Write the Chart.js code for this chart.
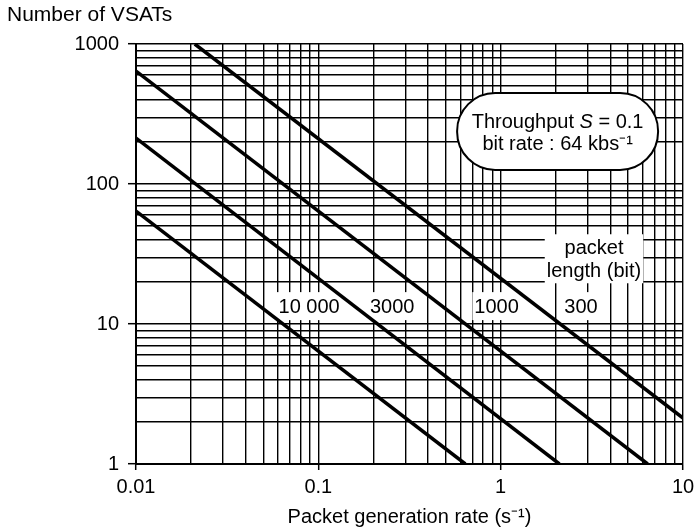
<!DOCTYPE html>
<html>
<head>
<meta charset="utf-8">
<script src="https://cdn.jsdelivr.net/npm/chart.js@4.4.1/dist/chart.umd.min.js"></script>
<style>
  html, body { margin: 0; padding: 0; background: #fff; }
  #wrap { width: 696px; height: 531px; position: relative; }
</style>
</head>
<body>
<div id="wrap"><canvas id="vsat-chart"></canvas></div>
<script>
// packet length of each line (bit)
const packetLengths = ["300", "1000", "3000", "10 000"];

// end points of each line
const rate300 = [0.021, 10];
const vsats300 = [1000, 2.13];
const rate1000 = [0.01, 6.4];
const vsats1000 = [640, 1];
const rate3000 = [0.01, 2.1];
const vsats3000 = [213, 1];
const rate10000 = [0.01, 0.64];
const vsats10000 = [64, 1];

// where the packet length labels sit (data units)
const labelRates = [2.76, 0.95, 0.254, 0.089];
const labelVsats = 13.2;

// axes
const xDecades = [0.01, 0.1, 1, 10];
const xTickLabels = ["0.01", "0.1", "1", "10"];
const yDecades = [1, 10, 100, 1000];
const yTickLabels = ["1", "10", "100", "1000"];

const FONT = '"Liberation Sans", Arial, Helvetica, sans-serif';

// full log grid: 1..9 in every decade
function logGrid(decades) {
  const vals = [];
  decades.forEach((d, i) => {
    if (i === decades.length - 1) { vals.push(d); return; }
    for (let m = 1; m < 10; m++) vals.push(Number((m * d).toPrecision(3)));
  });
  return vals;
}
const xGrid = logGrid(xDecades);
const yGrid = logGrid(yDecades);

function pts(xs, ys) {
  return xs.map((x, i) => ({ x: x, y: ys[i] }));
}

const lineStyle = { borderColor: "#000", borderWidth: 3.5, pointRadius: 0, fill: false, tension: 0 };

const overlay = {
  id: "overlay",
  beforeDatasetsDraw(chart) {
    const { ctx, scales: { x, y } } = chart;
    ctx.save();

    // packet length labels on white boxes
    ctx.font = "20px " + FONT;
    ctx.textAlign = "center";
    ctx.textBaseline = "middle";
    packetLengths.forEach((t, i) => {
      const px = x.getPixelForValue(labelRates[i]);
      const py = y.getPixelForValue(labelVsats);
      const w = ctx.measureText(t).width + 4;
      ctx.fillStyle = "#fff";
      ctx.fillRect(px - w / 2, py - 15, w, 28);
      ctx.fillStyle = "#000";
      ctx.fillText(t, px, py);
    });

    // "packet length (bit)"
    const hx = x.getPixelForValue(3.25);
    const hy = y.getPixelForValue(29);
    const hw = ctx.measureText("length (bit)").width + 4;
    ctx.fillStyle = "#fff";
    ctx.fillRect(hx - hw / 2, hy - 25, hw, 49);
    ctx.fillStyle = "#000";
    ctx.fillText("packet", hx, hy - 11);
    ctx.fillText("length (bit)", hx, hy + 12);

    // callout pill
    const x0 = x.getPixelForValue(0.577), x1 = x.getPixelForValue(7.3);
    const y0 = y.getPixelForValue(447), y1 = y.getPixelForValue(126);
    ctx.beginPath();
    ctx.roundRect(x0, y0, x1 - x0, y1 - y0, 38);
    ctx.fillStyle = "#fff";
    ctx.fill();
    ctx.lineWidth = 2;
    ctx.strokeStyle = "#000";
    ctx.stroke();

    const cx = (x0 + x1) / 2, cy = (y0 + y1) / 2;
    ctx.fillStyle = "#000";
    const a = "Throughput ", s = "S", b = " = 0.1";
    ctx.font = "20px " + FONT;
    const wa = ctx.measureText(a).width, wb = ctx.measureText(b).width;
    ctx.font = "italic 20px " + FONT;
    const ws = ctx.measureText(s).width;
    let sx = cx - (wa + ws + wb) / 2;
    ctx.textAlign = "left";
    ctx.font = "20px " + FONT;
    ctx.fillText(a, sx, cy - 9);
    ctx.font = "italic 20px " + FONT;
    ctx.fillText(s, sx + wa, cy - 9);
    ctx.font = "20px " + FONT;
    ctx.fillText(b, sx + wa + ws, cy - 9);
    ctx.textAlign = "center";
    ctx.fillText("bit rate : 64 kbs\u207B\u00B9", cx, cy + 13);

    // y axis title, top left
    ctx.textAlign = "left";
    ctx.font = "21px " + FONT;
    ctx.fillText("Number of VSATs", 7, 15);
    ctx.restore();
  }
};

const gridOpts = (majors) => ({
  color: "#000",
  lineWidth: 1.4,
  drawTicks: true,
  tickColor: (c) => (c.tick && majors.includes(c.tick.value) ? "#000" : "rgba(0,0,0,0)"),
  tickWidth: 1.5
});

new Chart(document.getElementById("vsat-chart"), {
  type: "line",
  data: {
    datasets: [
      { label: packetLengths[0], data: pts(rate300, vsats300), ...lineStyle },
      { label: packetLengths[1], data: pts(rate1000, vsats1000), ...lineStyle },
      { label: packetLengths[2], data: pts(rate3000, vsats3000), ...lineStyle },
      { label: packetLengths[3], data: pts(rate10000, vsats10000), ...lineStyle }
    ]
  },
  options: {
    responsive: true,
    maintainAspectRatio: false,
    animation: false,
    layout: { padding: { top: 44, right: 13, left: 0, bottom: 0 } },
    plugins: { legend: { display: false }, tooltip: { enabled: false } },
    scales: {
      x: {
        type: "logarithmic",
        min: 0.01,
        max: 10,
        afterBuildTicks: (axis) => { axis.ticks = xGrid.map((v) => ({ value: v })); },
        afterFit: (scale) => { scale.height = 67; scale.paddingRight = 0; scale.paddingLeft = 0; },
        grid: { ...gridOpts(xDecades), tickLength: 6 },
        border: { color: "#000", width: 2 },
        ticks: {
          autoSkip: false,
          maxRotation: 0,
          padding: 5,
          color: "#000",
          font: { family: FONT, size: 20 },
          callback: (v) => { const i = xDecades.indexOf(v); return i >= 0 ? xTickLabels[i] : ""; }
        },
        title: {
          display: true,
          text: "Packet generation rate (s\u207B\u00B9)",
          color: "#000",
          font: { family: FONT, size: 20 },
          padding: { top: 0, bottom: 2 }
        }
      },
      y: {
        type: "logarithmic",
        min: 1,
        max: 1000,
        afterBuildTicks: (axis) => { axis.ticks = yGrid.map((v) => ({ value: v })); },
        afterFit: (scale) => { scale.width = 136; scale.paddingTop = 0; scale.paddingBottom = 0; },
        grid: { ...gridOpts(yDecades), tickLength: 8 },
        border: { color: "#000", width: 2 },
        ticks: {
          autoSkip: false,
          padding: 9,
          color: "#000",
          font: { family: FONT, size: 20 },
          callback: (v) => { const i = yDecades.indexOf(v); return i >= 0 ? yTickLabels[i] : ""; }
        }
      }
    }
  },
  plugins: [overlay]
});
</script>
</body>
</html>
